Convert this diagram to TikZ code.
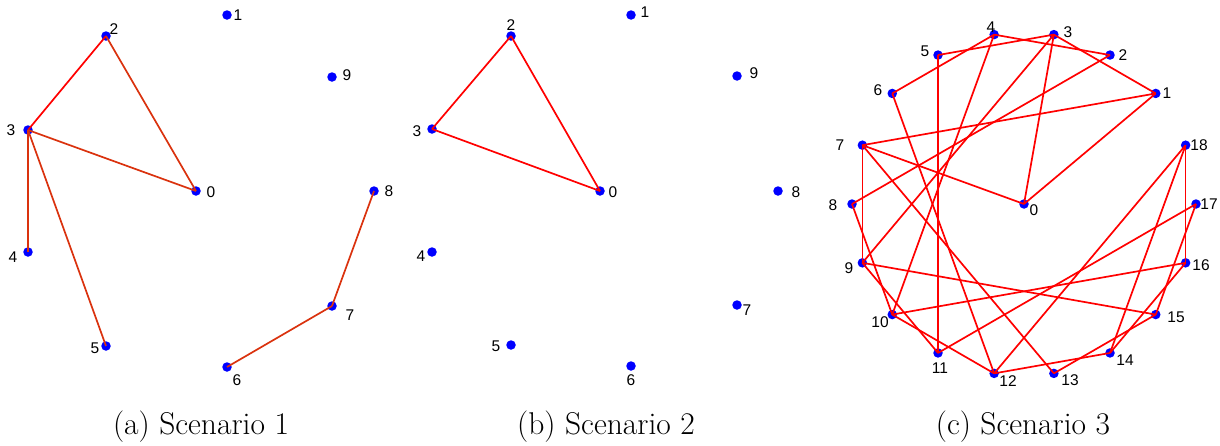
\documentclass[tikz,border=0pt]{standalone}
\usepackage{fontspec}
\setmainfont{Latin Modern Roman}
\newfontfamily\lblfont{Liberation Sans}
\definecolor{dotblue}{RGB}{0,0,255}
\definecolor{edgered}{RGB}{255,0,0}
\definecolor{edgeorange}{RGB}{218,50,14}
\tikzset{
  vdot/.style={circle,fill=dotblue,inner sep=0pt,minimum size=9.5pt},
  lbl/.style={font=\lblfont\fontsize{15.5}{16}\selectfont,inner sep=0pt,text=black},
  redline/.style={draw=edgered,line width=1.7pt},
  orangeline/.style={draw=edgeorange,line width=1.7pt},
  captext/.style={font=\fontsize{31.5}{33}\selectfont,inner sep=0pt,text=black},
}
\begin{document}
\begin{tikzpicture}[x=1pt,y=-1pt]
\useasboundingbox (0,0) rectangle (1220,445);

% ---------- Panel (a) ----------
\node[vdot] (a0) at (196,191) {};
\node[vdot] (a1) at (227,15) {};
\node[vdot] (a2) at (106,36) {};
\node[vdot] (a3) at (28,130) {};
\node[vdot] (a4) at (28,252) {};
\node[vdot] (a5) at (106,346) {};
\node[vdot] (a6) at (227,367) {};
\node[vdot] (a7) at (332,306) {};
\node[vdot] (a8) at (374,191) {};
\node[vdot] (a9) at (332,77) {};
\node[lbl] (la0) at (211,192) {0};
\node[lbl] (la1) at (238,15) {1};
\node[lbl] (la2) at (114,29) {2};
\node[lbl] (la3) at (11,130) {3};
\node[lbl] (la4) at (13,257) {4};
\node[lbl] (la5) at (95,348) {5};
\node[lbl] (la6) at (237,380) {6};
\node[lbl] (la7) at (350,315) {7};
\node[lbl] (la8) at (389,191) {8};
\node[lbl] (la9) at (347,75) {9};
\draw[redline] (a2.center) -- (a3.center);
\draw[orangeline] (a2.center) -- (a0.center);
\draw[orangeline] (a3.center) -- (a0.center);
\draw[orangeline] (a3.center) -- (a4.center);
\draw[orangeline] (a3.center) -- (a5.center);
\draw[orangeline] (a7.center) -- (a8.center);
\draw[orangeline] (a7.center) -- (a6.center);

% ---------- Panel (b) ----------
\node[vdot] (b0) at (600,191) {};
\node[vdot] (b1) at (631,15) {};
\node[vdot] (b2) at (511,36) {};
\node[vdot] (b3) at (432,129) {};
\node[vdot] (b4) at (432,252) {};
\node[vdot] (b5) at (511,345) {};
\node[vdot] (b6) at (631,366) {};
\node[vdot] (b7) at (737,305) {};
\node[vdot] (b8) at (778,191) {};
\node[vdot] (b9) at (737,76) {};
\node[lbl] (lb0) at (613,192) {0};
\node[lbl] (lb1) at (645,12) {1};
\node[lbl] (lb2) at (511,25) {2};
\node[lbl] (lb3) at (417,131) {3};
\node[lbl] (lb4) at (421,256) {4};
\node[lbl] (lb5) at (496,346) {5};
\node[lbl] (lb6) at (631,380) {6};
\node[lbl] (lb7) at (747,310) {7};
\node[lbl] (lb8) at (796,192) {8};
\node[lbl] (lb9) at (754,73) {9};
\draw[redline] (b2.center) -- (b3.center);
\draw[redline] (b2.center) -- (b0.center);
\draw[redline] (b3.center) -- (b0.center);

% ---------- Panel (c) ----------
\node[vdot] (c0) at (1024,204) {};
\foreach \i in {1,...,18}{
  \node[vdot] (c\i) at ({1024+172*cos(20+20*\i)},{204-172*sin(20+20*\i)}) {};
}
\node[lbl] (lc0) at (1034,210) {0};
\node[lbl] (lc1) at (1167,93) {1};
\node[lbl] (lc2) at (1123,55) {2};
\node[lbl] (lc3) at (1068,32) {3};
\node[lbl] (lc4) at (991,27) {4};
\node[lbl] (lc5) at (925,51) {5};
\node[lbl] (lc6) at (878,90) {6};
\node[lbl] (lc7) at (840,145) {7};
\node[lbl] (lc8) at (833,205) {8};
\node[lbl] (lc9) at (849,268) {9};
\node[lbl] (lc10) at (880,322) {10};
\node[lbl] (lc11) at (940,368) {11};
\node[lbl] (lc12) at (1008,381) {12};
\node[lbl] (lc13) at (1070,380) {13};
\node[lbl] (lc14) at (1125,360) {14};
\node[lbl] (lc15) at (1176,317) {15};
\node[lbl] (lc16) at (1201,265) {16};
\node[lbl] (lc17) at (1209,204) {17};
\node[lbl] (lc18) at (1199,145) {18};
\foreach \u/\v in {4/2,5/3,3/1,6/4,4/10,3/9,3/0,2/8,1/0,1/7,5/11,6/12,7/9,7/0,7/13,
                   18/12,18/14,18/16,17/11,17/15,16/10,16/14,9/15,8/10,9/11,10/12,12/14,13/15}{
  \draw[redline] (c\u.center) -- (c\v.center);
}

% ---------- Captions ----------
\node[captext] (capa) at (201,427) {(a) Scenario 1};
\node[captext] (capb) at (606,427) {(b) Scenario 2};
\node[captext] (capc) at (1023,427) {(c) Scenario 3};
\end{tikzpicture}
\end{document}
